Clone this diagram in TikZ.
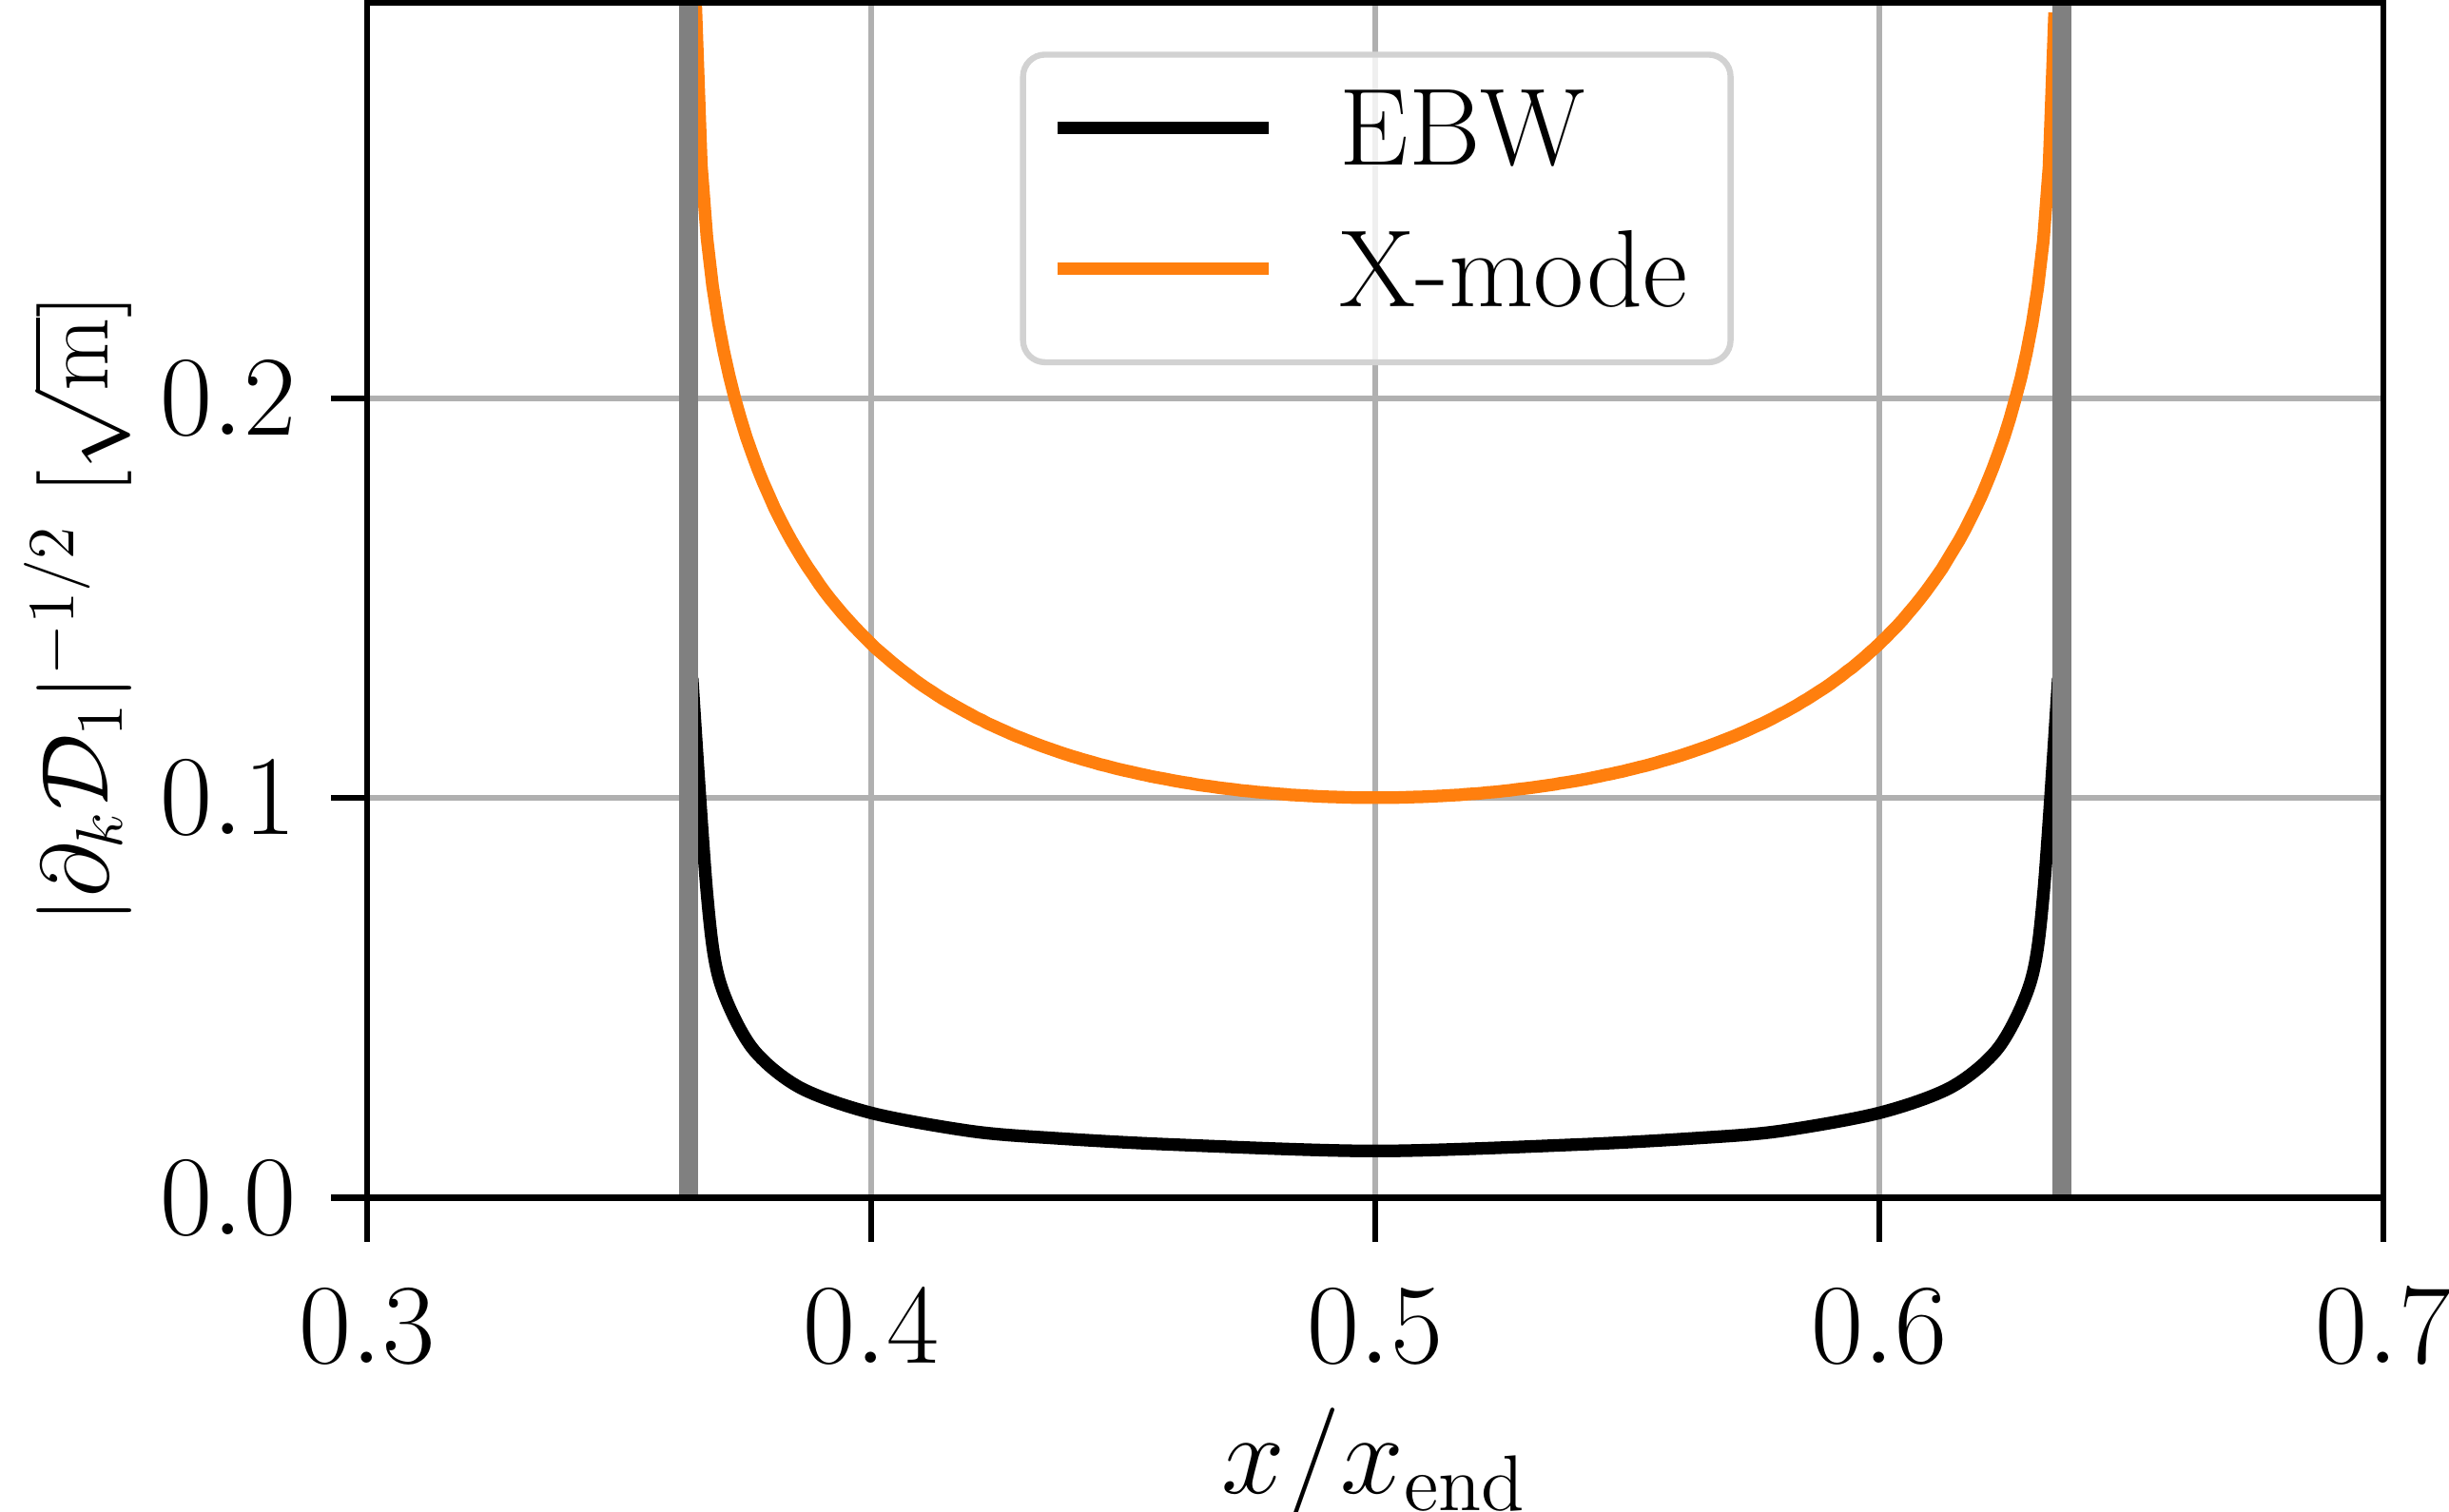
\documentclass[tikz,border=0pt]{standalone}
\usepackage{amsmath}
\usetikzlibrary{positioning}
\definecolor{xorange}{RGB}{255,127,14}
\definecolor{gridgray}{RGB}{176,176,176}
\definecolor{cutgray}{RGB}{128,128,128}
\tikzset{
  gridline/.style={gridgray, line width=1.1pt},
  curve/.style={line width=2.3pt, line join=round},
  ticklabel/.style={font=\fontsize{20}{24}\selectfont, inner sep=2pt}
}
\begin{document}
\begin{tikzpicture}
  \useasboundingbox (0,0) rectangle (15.68,9.68);
  \begin{scope}[shift={(-7.3325,2.01)}, xscale=32.275, yscale=25.6]
    % grid
    \foreach \gx in {0.4,0.5,0.6}
      \draw[gridline] (\gx,0) -- (\gx,0.299);
    \foreach \gy in {0,0.1,0.2}
      \draw[gridline] (0.3,\gy) -- (0.7,\gy);
    % curves
    \begin{scope}
      \clip (0.3,0) rectangle (0.7,0.299);
      \draw[curve, xorange] plot[domain=0.3652:0.6348, samples=240, variable=\t]
        (\t, {0.1*(0.024649/((\t-0.343)*(0.657-\t)))^0.6
              + 0.0001/(\t-0.3638) + 0.0001/(0.6362-\t) - 0.00147});
      \draw[curve, black] plot[smooth, tension=0.5] coordinates {
        (0.3645,0.13) (0.3674,0.0766) (0.3699,0.0544) (0.3762,0.0378)
        (0.3857,0.0277) (0.4001,0.0212) (0.4202,0.0166) (0.4366,0.0149)
        (0.46,0.0133) (0.5,0.0117) (0.54,0.0133) (0.5634,0.0149)
        (0.5798,0.0166) (0.5999,0.0212) (0.6143,0.0277) (0.6238,0.0378)
        (0.6301,0.0544) (0.6326,0.0766) (0.6355,0.13)};
    \end{scope}
    % cutoffs
    \draw[cutgray, line width=3.4pt] (0.3638,0) -- (0.3638,0.299);
    \draw[cutgray, line width=3.4pt] (0.6362,0) -- (0.6362,0.299);
    % frame and ticks
    \draw[line width=1.1pt] (0.3,0) rectangle (0.7,0.299);
    \foreach \tx in {0.3,0.4,0.5,0.6,0.7} {
      \draw[line width=1.1pt] (\tx,0) -- ++(0,-0.011);
      \node[ticklabel, anchor=north] (xt\tx) at (\tx,-0.02) {$\tx$};
    }
    \foreach \ty in {0.0,0.1,0.2} {
      \draw[line width=1.1pt] (0.3,\ty) -- ++(-0.0072,0);
      \node[ticklabel, anchor=east] (yt\ty) at (0.2883,\ty) {$\ty$};
    }
  \end{scope}
  % axis labels
  \node[ticklabel] (xlabel) at (8.8,0.3) {$x/x_{\mathrm{end}}$};
  \node[ticklabel, font=\fontsize{18.5}{22}\selectfont, rotate=90] (ylabel) at (0.5,5.78)
    {$|\partial_k \mathcal{D}_1|^{-1/2}\ [\sqrt{\mathrm{m}}]$};
  % legend
  \draw[gray!35, line width=1.1pt, fill=white, fill opacity=0.8, rounded corners=4pt]
    (6.55,7.36) rectangle (11.08,9.33);
  \draw[curve, black] (6.77,8.86) -- (8.12,8.86);
  \draw[curve, xorange] (6.77,7.96) -- (8.12,7.96);
  \node[ticklabel, anchor=west] (lebw) at (8.5,8.86) {EBW};
  \node[ticklabel, anchor=west] (lxmode) at (8.5,7.96) {X-mode};
\end{tikzpicture}
\end{document}
